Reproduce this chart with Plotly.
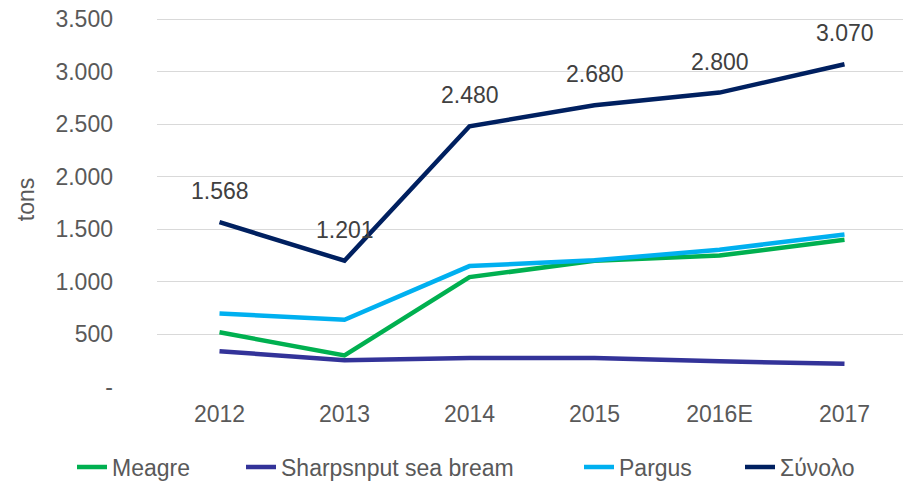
import plotly.graph_objects as go

years = ["2012", "2013", "2014", "2015", "2016E", "2017"]
meagre = [520, 300, 1045, 1200, 1250, 1400]
sharpsnout = [340, 255, 275, 275, 245, 220]
pargus = [700, 640, 1150, 1205, 1305, 1450]
total = [1568, 1201, 2480, 2680, 2800, 3070]

y_tickvals = [0, 500, 1000, 1500, 2000, 2500, 3000, 3500]
y_ticktext = ["-", "500", "1.000", "1.500", "2.000", "2.500", "3.000", "3.500"]

series = [
    ("Meagre", meagre, "#00B050"),
    ("Sharpsnput sea bream", sharpsnout, "#333399"),
    ("Pargus", pargus, "#00B0F0"),
    ("Σύνολο", total, "#002060"),
]
# left edge (px, page) of each legend text
legend_text_x = [113, 282, 620, 781]

# the page body adds an 8px margin, so the figure is sized to fit the window
W, H, OFF = 903, 475, 8
FS = 23
TOP, BOTTOM = 4, 96
# 3500 sits 7px below the plot top so its tick label is not clipped
plot_h = H - TOP - BOTTOM
y_max = 3500 * plot_h / (plot_h - 7)

fig = go.Figure()
for i, (name, vals, color) in enumerate(series):
    lg = "legend" if i == 0 else f"legend{i + 1}"
    fig.add_trace(go.Scatter(x=years, y=vals, name=name, mode="lines",
                             line=dict(color=color, width=4.5), legend=lg))
    fig.update_layout({lg: dict(
        orientation="h", xref="container", yref="container",
        x=(legend_text_x[i] - OFF - 41) / W, xanchor="left",
        y=16 / H, yanchor="middle", bgcolor="rgba(0,0,0,0)",
        font=dict(size=FS, color="#595959"), itemwidth=30)})

def fmt(v):
    return f"{v:,}".replace(",", ".")

for i, v in enumerate(total):
    fig.add_annotation(x=i, y=v, text=fmt(v), showarrow=False, yshift=31,
                       font=dict(size=FS, color="#404040"))

fig.update_layout(
    width=W, height=H,
    margin=dict(l=149, r=4, t=TOP, b=BOTTOM, autoexpand=False),
    plot_bgcolor="white", paper_bgcolor="white",
    font=dict(family="Liberation Sans, Arial, sans-serif", size=FS, color="#595959"),
    showlegend=True,
    xaxis=dict(type="category", range=[-0.5, 5.5], showgrid=False, showline=False,
               ticks="", zeroline=False, ticklabelstandoff=11, automargin=False),
    yaxis=dict(range=[0, y_max], tickvals=y_tickvals, ticktext=y_ticktext,
               showgrid=True, gridcolor="#D9D9D9", gridwidth=1.3,
               zeroline=False, showline=False, ticks="", automargin=False,
               ticklabelstandoff=43, ticklabeloverflow="allow",
               title=dict(text="tons", standoff=14, font=dict(size=FS, color="#595959"))),
)

fig.write_html("out.html")
